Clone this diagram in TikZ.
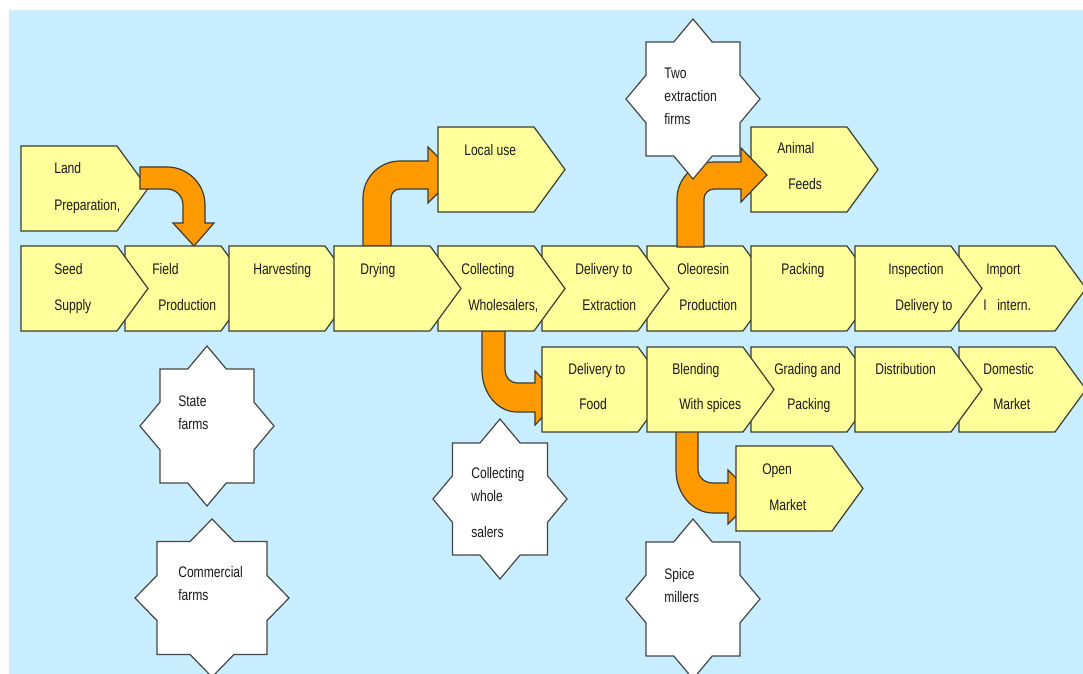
\documentclass[tikz,border=0pt]{standalone}
\usepackage{fontspec}
\setmainfont{Liberation Sans}[FakeStretch=0.79]

\definecolor{skyback}{RGB}{199,237,254}
\definecolor{boxfill}{RGB}{255,255,156}
\definecolor{boxedge}{RGB}{60,60,50}
\definecolor{flowarrow}{RGB}{255,153,0}
\definecolor{staredge}{RGB}{70,70,70}
\definecolor{inktext}{RGB}{25,25,25}

\tikzset{
  boxline/.style={draw=boxedge, fill=boxfill, line width=0.9pt, line join=miter},
  starline/.style={draw=staredge, fill=white, line width=0.9pt, line join=miter},
  bentarrow/.style={draw=boxedge, fill=flowarrow, line width=0.9pt, line join=miter},
  lbl/.style={anchor=base west, inner sep=0pt, text=inktext,
              font=\fontsize{11.5}{13}\selectfont},
}

% pentagon step box: name, left x, top y
\newcommand\pentbox[3]{%
  \draw[boxline] (#2,#3) -- ++(96,0) -- ++(31,42.5) -- ++(-31,42.5) -- ++(-96,0) -- cycle;
  \coordinate (#1) at ({#2+48},{#3+42.5});}

% eight-point star: name, cx, cy, square half-width, square half-height, point rx, point ry
\newcommand\eightstar[7]{%
  \pgfmathsetmacro\nxv{#6*(1-#5/#7)}%
  \pgfmathsetmacro\nyv{#7*(1-#4/#6)}%
  \begin{scope}[shift={(#2,#3)}]
    \draw[starline] (0,-#7) -- (\nxv,-#5) -- (#4,-#5) -- (#4,-\nyv) -- (#6,0)
      -- (#4,\nyv) -- (#4,#5) -- (\nxv,#5) -- (0,#7) -- (-\nxv,#5) -- (-#4,#5)
      -- (-#4,\nyv) -- (-#6,0) -- (-#4,-\nyv) -- (-#4,-#5) -- (-\nxv,-#5) -- cycle;
    \coordinate (#1) at (0,0);
  \end{scope}}

% text line: name, x, baseline y, text
\newcommand\tline[4]{\node[lbl] (#1) at (#2,#3) {#4};}

\begin{document}
\begin{tikzpicture}[x=0.75pt,y=-0.75pt]
\useasboundingbox (0,0) rectangle (1083,674);
\clip (0,0) rectangle (1083,674);
\fill[white] (0,0) rectangle (1083,674);
\fill[skyback] (9,10) rectangle (1083,674);

% input branch
\pentbox{land}{21}{146}

% Land Preparation -> Field Production
\draw[bentarrow] (140,167) -- (167,167) .. controls (188,167) and (205,184) .. (205,205)
  -- (205,223) -- (214,223) -- (194,246) -- (173,223) -- (183,223) -- (183,205)
  .. controls (183,196.2) and (175.8,189) .. (167,189) -- (140,189) -- cycle;

% Drying -> Local use
\draw[bentarrow] (363,246) -- (363,198) .. controls (363,177.6) and (379.6,161) .. (400,161)
  -- (428,161) -- (428,147) -- (456,175) -- (428,203) -- (428,189) -- (400,189)
  .. controls (395,189) and (391,193) .. (391,198) -- (391,246) -- cycle;

% Collecting Wholesalers -> Delivery to Food
\draw[bentarrow] (482,331) -- (482,370) .. controls (482,393.2) and (497.7,412) .. (517,412)
  -- (535,412) -- (535,425) -- (561,398) -- (535,371) -- (535,383) -- (517,383)
  .. controls (510.4,383) and (505,377.2) .. (505,370) -- (505,331) -- cycle;

% Blending -> Open Market
\draw[bentarrow] (676,431) -- (676,470) .. controls (676,493.7) and (692.6,513) .. (713,513)
  -- (728,513) -- (728,524) -- (755,497) -- (728,470) -- (728,483) -- (713,483)
  .. controls (704.7,483) and (698,477.2) .. (698,470) -- (698,431) -- cycle;

% main chain
\pentbox{field}{125}{246}
\pentbox{seed}{21}{246}
\pentbox{harvest}{229}{246}
\pentbox{oleo}{647}{246}
\pentbox{delext}{542}{246}
\pentbox{collect}{438}{246}
\pentbox{drying}{334}{246}
\pentbox{packing}{751}{246}
\pentbox{import}{959}{246}
\pentbox{inspect}{855}{246}

% domestic chain
\pentbox{delfood}{542}{347}
\pentbox{grading}{751}{347}
\pentbox{blend}{647}{347}
\pentbox{domestic}{959}{347}
\pentbox{distrib}{855}{347}

% side outlets
\pentbox{local}{438}{127}
\pentbox{animal}{751}{127}
\pentbox{open}{736}{446}

% Oleoresin Production -> Animal Feeds
\draw[bentarrow] (677,247) -- (677,199) .. controls (677,178.6) and (693.6,162) .. (714,162)
  -- (741,162) -- (741,148) -- (767,175) -- (741,202) -- (741,189) -- (714,189)
  .. controls (708.5,189) and (704,193.5) .. (704,199) -- (704,247) -- cycle;

% actors
\eightstar{twofirms}{693}{99}{47}{57}{67}{80}
\eightstar{statefarms}{207}{426}{47}{57}{67}{80}
\eightstar{commfarms}{212}{598}{55}{56.5}{77}{79}
\eightstar{wholesalers}{500}{499}{47.5}{56}{67}{80}
\eightstar{millers}{693}{599}{47}{57}{67}{80}

% box texts
\tline{land-a}{54}{174}{Land}
\tline{land-b}{54}{210}{Preparation,}
\tline{seed-a}{54}{274}{Seed}
\tline{seed-b}{54}{310}{Supply}
\tline{field-a}{152}{274}{Field}
\tline{field-b}{158}{310}{Production}
\tline{harvest-a}{253}{274}{Harvesting}
\tline{drying-a}{360}{274}{Drying}
\tline{collect-a}{461}{274}{Collecting}
\tline{collect-b}{468}{310}{Wholesalers,}
\tline{delext-a}{575}{274}{Delivery to}
\tline{delext-b}{582}{310}{Extraction}
\tline{oleo-a}{677}{274}{Oleoresin}
\tline{oleo-b}{679}{310}{Production}
\tline{packing-a}{781}{274}{Packing}
\tline{inspect-a}{888}{274}{Inspection}
\tline{inspect-b}{895}{310}{Delivery to}
\tline{import-a}{986}{274}{Import}
\tline{import-b}{983}{310}{I\hspace{8pt}intern.}

\tline{delfood-a}{568}{374}{Delivery to}
\tline{delfood-b}{579}{409}{Food}
\tline{blend-a}{672}{374}{Blending}
\tline{blend-b}{679}{409}{With spices}
\tline{grading-a}{774}{374}{Grading and}
\tline{grading-b}{787}{409}{Packing}
\tline{distrib-a}{875}{374}{Distribution}
\tline{domestic-a}{983}{374}{Domestic}
\tline{domestic-b}{993}{409}{Market}

\tline{local-a}{464}{156}{Local use}
\tline{animal-a}{777}{154}{Animal}
\tline{animal-b}{788}{190}{Feeds}
\tline{open-a}{762}{474}{Open}
\tline{open-b}{769}{510}{Market}

% star texts
\tline{twofirms-a}{664}{79}{Two}
\tline{twofirms-b}{664}{102}{extraction}
\tline{twofirms-c}{664}{125}{firms}
\tline{statefarms-a}{178}{406}{State}
\tline{statefarms-b}{178}{429}{farms}
\tline{commfarms-a}{178}{577}{Commercial}
\tline{commfarms-b}{178}{600}{farms}
\tline{wholesalers-a}{471}{478}{Collecting}
\tline{wholesalers-b}{471}{501}{whole}
\tline{wholesalers-c}{471}{537}{salers}
\tline{millers-a}{664}{579}{Spice}
\tline{millers-b}{664}{602}{millers}
\end{tikzpicture}
\end{document}
